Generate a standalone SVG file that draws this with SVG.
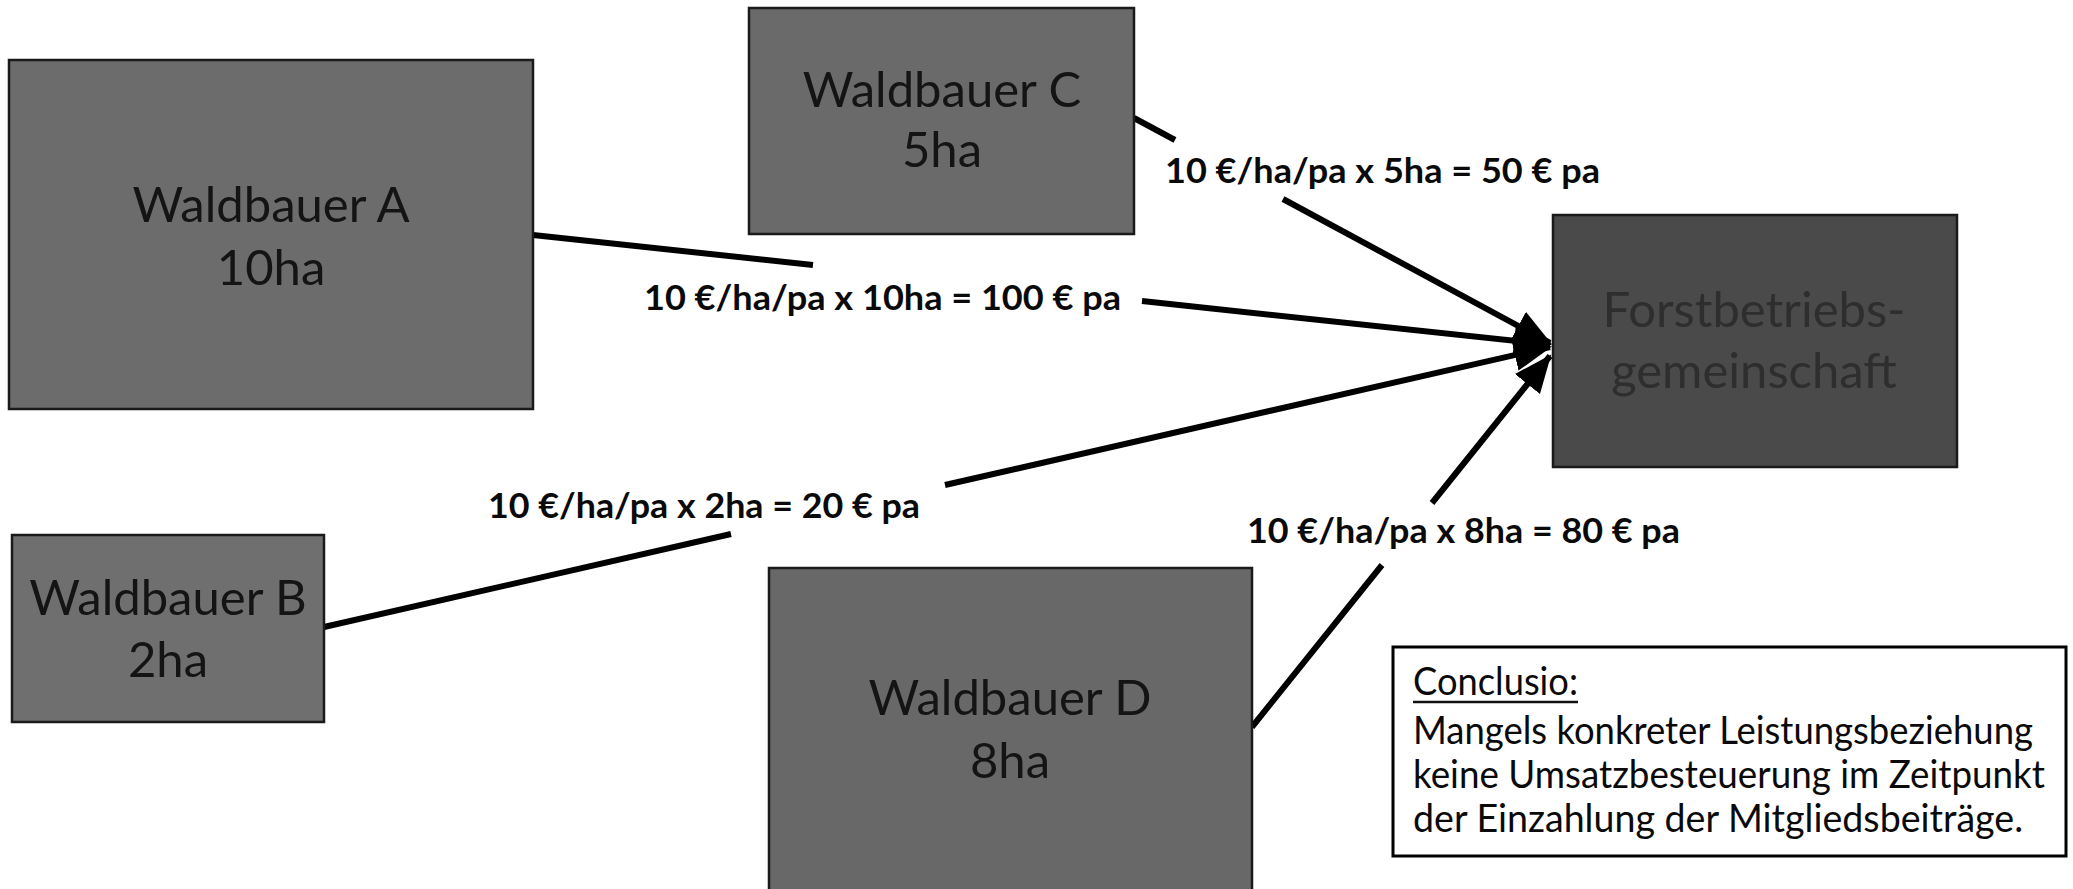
<svg xmlns="http://www.w3.org/2000/svg" width="2073" height="889" viewBox="0 0 2073 889">
<style>
.box{stroke:#1a1a1a;stroke-width:2.5}
.bt{font-family:Lato,"Open Sans",sans-serif;font-size:49px;fill:#141414;text-anchor:middle}
.lbl{font-family:Lato,"Open Sans",sans-serif;font-weight:bold;font-size:34px;fill:#0a0a0a}
.conn{fill:none;stroke:#000;stroke-width:6;stroke-linecap:butt}
.cl{font-family:Lato,"Open Sans",sans-serif;font-size:38px;fill:#0a0a0a}
</style>
<defs>
<marker id="ah" markerUnits="userSpaceOnUse" markerWidth="40" markerHeight="34" refX="36" refY="16" orient="auto">
<path d="M0,0 L38,16 L0,32 Z" fill="#000"/>
</marker>
</defs>
<rect x="0" y="0" width="2073" height="889" fill="#fff"/>
<g id="connectors">
<path class="conn" d="M533,235 L813,265 M1142,301 L1550,344.6" marker-end="url(#ah)"/>
<path class="conn" d="M1134,118 L1175,140 M1283,199 L1550,343" marker-end="url(#ah)"/>
<path class="conn" d="M324,627 L731,534 M945,485 L1550,347" marker-end="url(#ah)"/>
<path class="conn" d="M1252,727 L1382,565 M1432,503 L1550,356" marker-end="url(#ah)"/>
</g>
<g id="node-a">
<rect class="box" x="9" y="60" width="524" height="349" fill="#6c6c6c"/>
<text class="bt" x="271" y="222">Waldbauer A</text>
<text class="bt" x="271" y="285">10ha</text>
</g>
<g id="node-c">
<rect class="box" x="749" y="8" width="385" height="226" fill="#6a6a6a"/>
<text class="bt" x="942" y="107">Waldbauer C</text>
<text class="bt" x="942" y="167">5ha</text>
</g>
<g id="node-fbg">
<rect class="box" x="1553" y="215" width="404" height="252" fill="#4a4a4a"/>
<text class="bt" x="1754" y="327" style="fill:#2e2e2e">Forstbetriebs-</text>
<text class="bt" x="1754" y="388" style="fill:#2e2e2e">gemeinschaft</text>
</g>
<g id="node-b">
<rect class="box" x="12" y="535" width="312" height="187" fill="#6f6f6f"/>
<text class="bt" x="168" y="615">Waldbauer B</text>
<text class="bt" x="168" y="677">2ha</text>
</g>
<g id="node-d">
<rect class="box" x="769" y="568" width="483" height="330" fill="#686868"/>
<text class="bt" x="1010" y="715">Waldbauer D</text>
<text class="bt" x="1010" y="778">8ha</text>
</g>
<g id="labels">
<text class="lbl" x="644" y="310" textLength="477" lengthAdjust="spacingAndGlyphs">10 €/ha/pa x 10ha = 100 € pa</text>
<text class="lbl" x="1165" y="183" textLength="435" lengthAdjust="spacingAndGlyphs">10 €/ha/pa x 5ha = 50 € pa</text>
<text class="lbl" x="488" y="518" textLength="432" lengthAdjust="spacingAndGlyphs">10 €/ha/pa x 2ha = 20 € pa</text>
<text class="lbl" x="1247" y="543" textLength="433" lengthAdjust="spacingAndGlyphs">10 €/ha/pa x 8ha = 80 € pa</text>
</g>
<g id="node-conclusio">
<rect x="1393" y="647" width="673" height="209" fill="#fff" stroke="#000" stroke-width="3"/>
<text class="cl" x="1413" y="695" textLength="165" lengthAdjust="spacingAndGlyphs">Conclusio:</text>
<line x1="1413" y1="702" x2="1578" y2="702" stroke="#111" stroke-width="2.5"/>
<text class="cl" x="1413" y="744" textLength="620" lengthAdjust="spacingAndGlyphs">Mangels konkreter Leistungsbeziehung</text>
<text class="cl" x="1413" y="788" textLength="632" lengthAdjust="spacingAndGlyphs">keine Umsatzbesteuerung im Zeitpunkt</text>
<text class="cl" x="1413" y="832" textLength="610" lengthAdjust="spacingAndGlyphs">der Einzahlung der Mitgliedsbeiträge.</text>
</g>
</svg>
